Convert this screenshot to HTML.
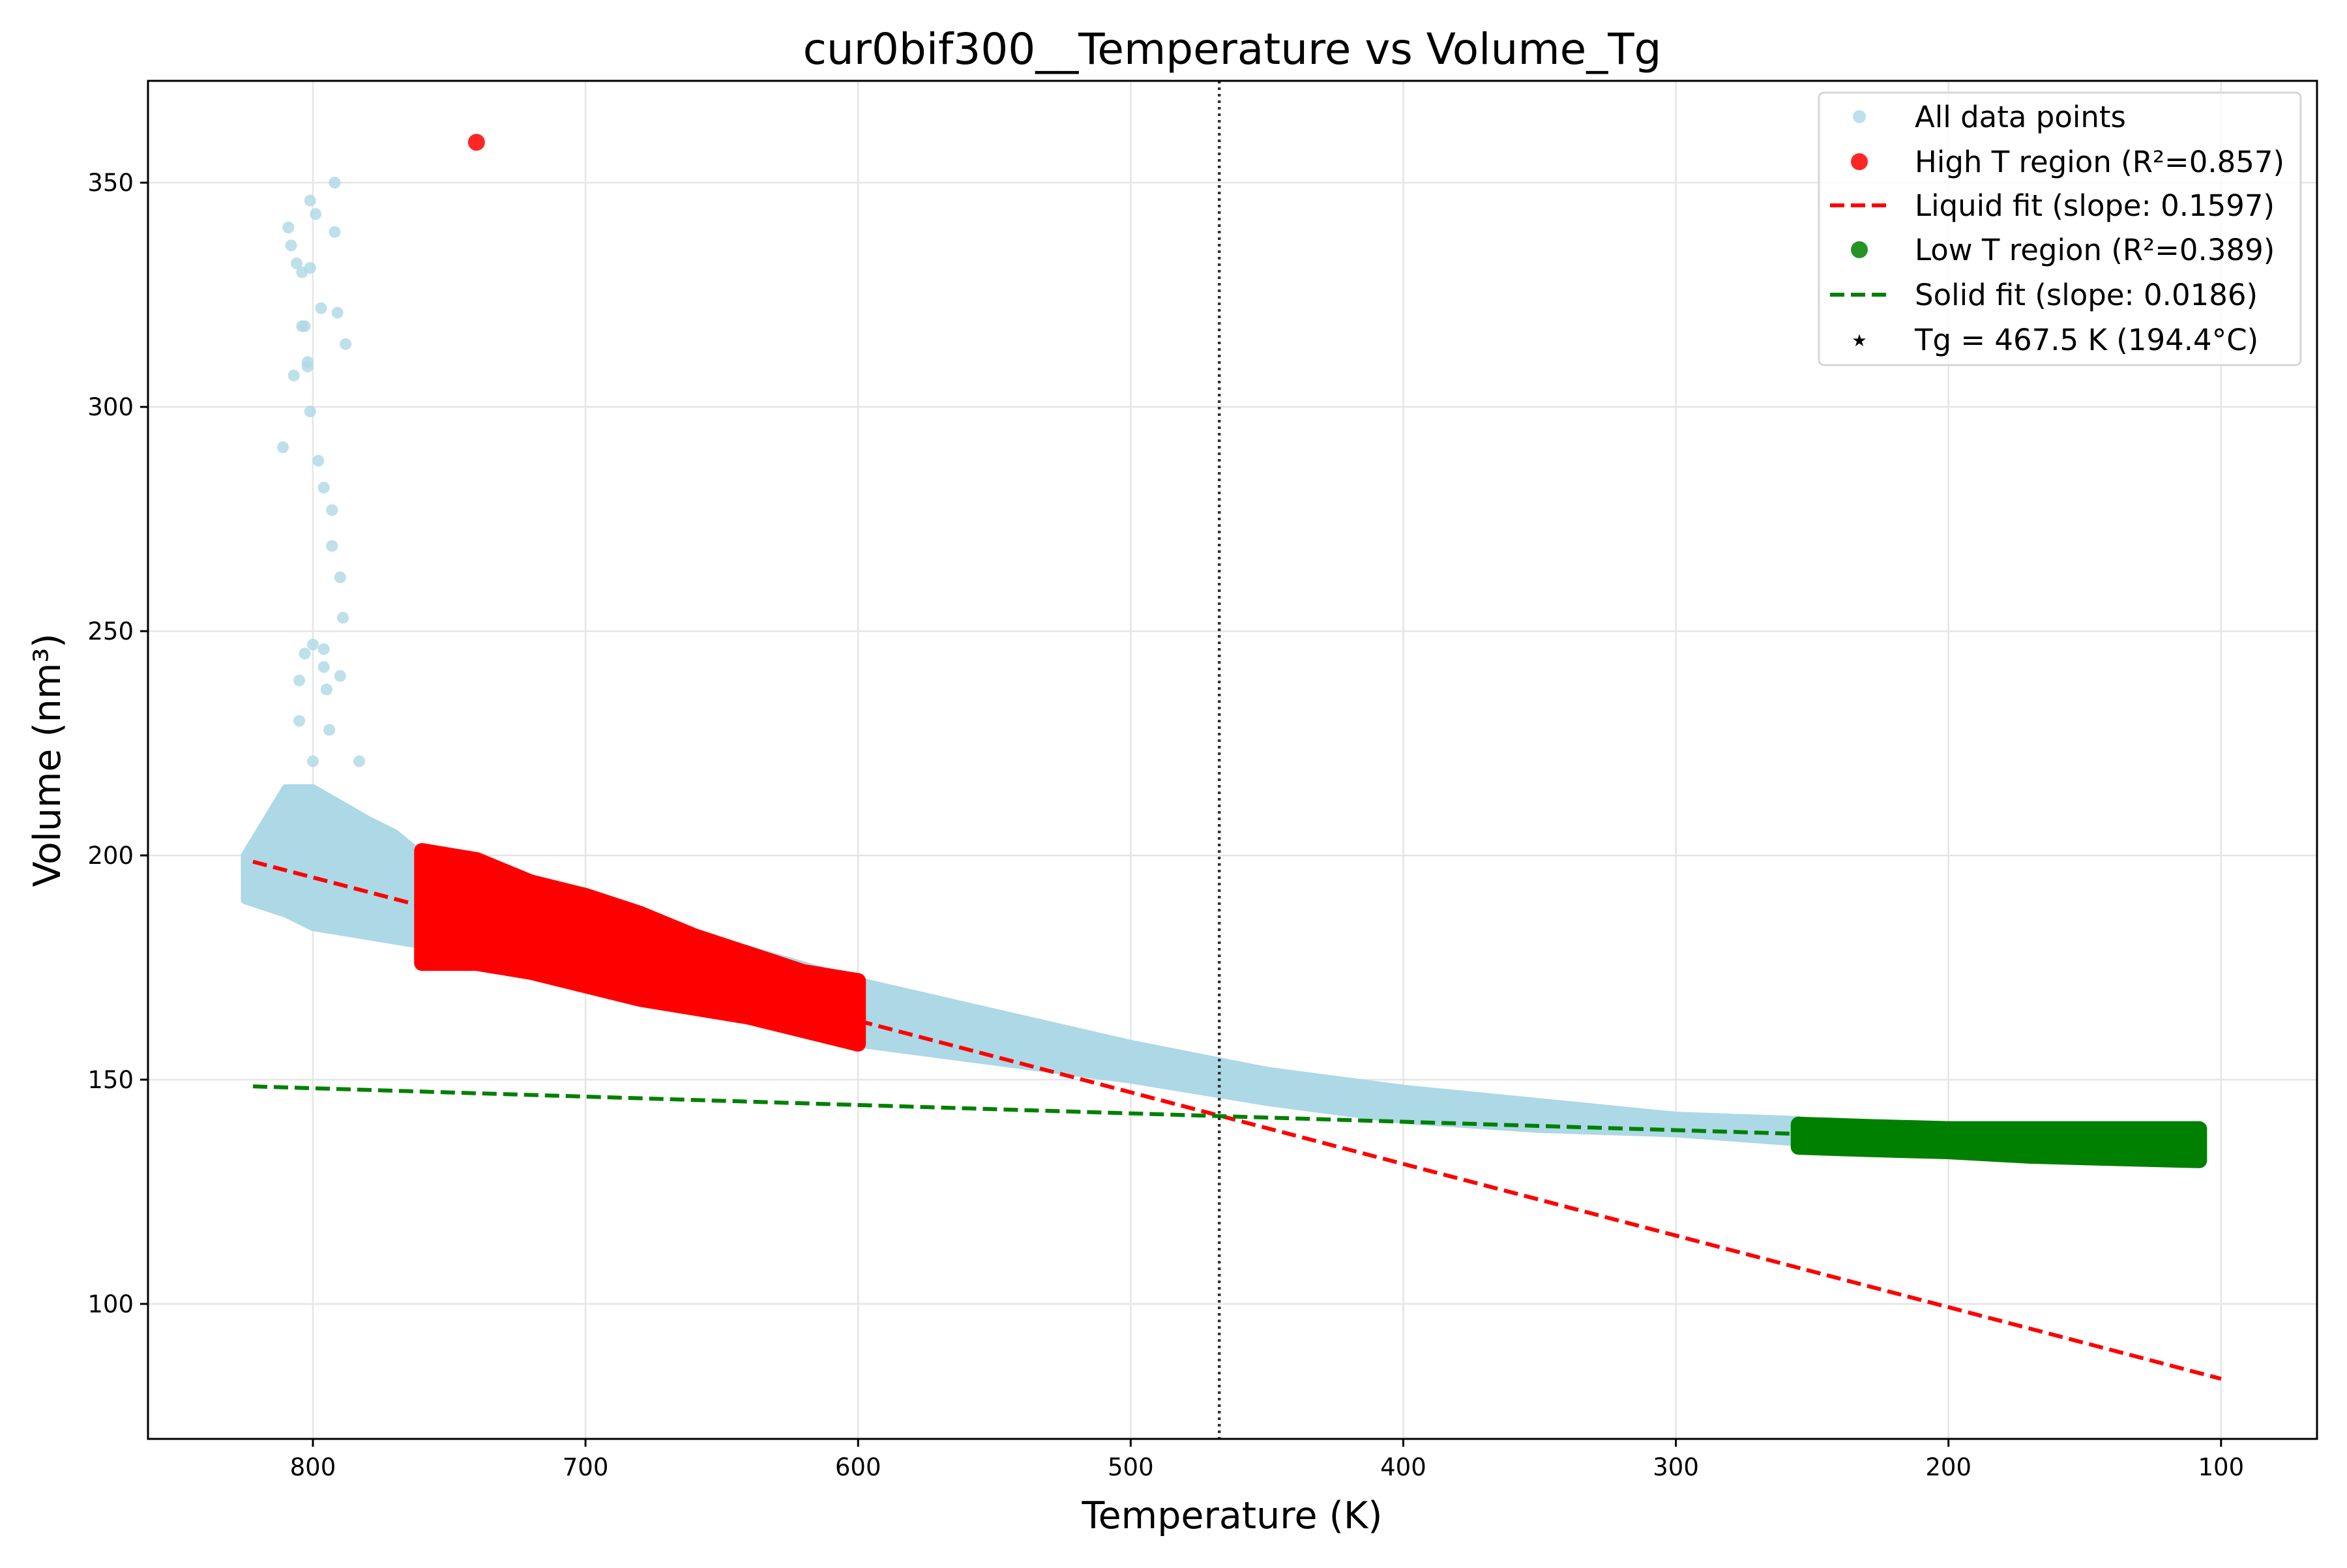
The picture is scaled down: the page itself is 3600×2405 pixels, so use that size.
<!DOCTYPE html>
<html><head><meta charset="utf-8"><style>
body{margin:0;background:#fff}
svg text{font-family:"DejaVu Sans","Liberation Sans",sans-serif}
</style></head><body>
<svg id="chart" width="3600" height="2400" xmlns="http://www.w3.org/2000/svg">
<rect width="3600" height="2400" fill="#fff"/>
<g id="grid"></g><g id="marks"></g><g id="axes"></g>
<text x="1890" y="98" font-size="66" text-anchor="middle">cur0bif300__Temperature vs Volume_Tg</text>
<text x="1890" y="2344" font-size="57" text-anchor="middle">Temperature (K)</text>
<text transform="translate(92,1166) rotate(-90)" font-size="57" text-anchor="middle">Volume (nm³)</text>
<g id="legend"></g>
</svg>
<script>
const xTicks=[800,700,600,500,400,300,200,100];
const yTicks=[100,150,200,250,300,350];
const allBandT=[825,810,800,780,770,760,600,550,500,450,400,350,300,255];
const allBandUpper=[200,215,215,208,205,200,172,165,158,152,148,145,142,141];
const allBandLower=[190,187,184,182,181,180,158,154,150,145,141,139,138,136];
const outlierT=[809,808,806,804,801,801,799,797,792,792,791,788,804,803,802,802,807,811,801,798,796,793,793,790,789,796,803,796,790,795,805,805,794,783,800,800];
const outlierV=[340,336,332,330,331,346,343,322,350,339,321,314,318,318,310,309,307,291,299,288,282,277,269,262,253,246,245,242,240,237,239,230,228,221,221,247];
const highT=[760,740,720,700,680,660,640,620,600];
const highUpper=[201,199,194,191,187,182,178,174,172];
const highLower=[176,176,174,171,168,166,164,161,158];
const highOutlierT=[740];
const highOutlierV=[359];
const lowT=[255,230,200,170,140,108];
const lowUpper=[140,139.5,139,139,139,139];
const lowLower=[135,134.5,134,133,132.5,132];
const liquidFitT=[822,100];
const liquidFitV=[198.6,83.3];
const solidFitT=[822,255];
const solidFitV=[148.5,137.9];
const tg=467.5;

const L=227,R=3554,T=124,B=2207;
const X0=860.5,X1=64.8,Y0=69.9,Y1=372.7;
const sx=t=>L+(X0-t)/(X0-X1)*(R-L);
const sy=v=>B-(v-Y0)/(Y1-Y0)*(B-T);
const NS="http://www.w3.org/2000/svg";
function mk(tag,attrs,parent){const e=document.createElementNS(NS,tag);for(const k in attrs)e.setAttribute(k,attrs[k]);document.getElementById(parent).appendChild(e);return e;}
xTicks.forEach(t=>{const e=mk('line',{x1:sx(t),x2:sx(t),y1:T,y2:B,stroke:'#e5e5e5','stroke-width':2.5},'grid');

});
yTicks.forEach(v=>{const e=mk('line',{x1:L,x2:R,y1:sy(v),y2:sy(v),stroke:'#e5e5e5','stroke-width':2.5},'grid');

});
function band(Ts,U,Lo,fill,stroke,sw,name){let p=Ts.map((t,i)=>sx(t)+','+sy(U[i]));for(let i=Ts.length-1;i>=0;i--)p.push(sx(Ts[i])+','+sy(Lo[i]));
const e=mk('polygon',{points:p.join(' '),fill:fill,stroke:stroke,'stroke-width':sw,'stroke-linejoin':'round'},'marks');

}
band(allBandT,allBandUpper,allBandLower,'#add8e6','#add8e6',12,'all-data-band');
outlierT.forEach((t,i)=>{const e=mk('circle',{cx:sx(t),cy:sy(outlierV[i]),r:9,fill:'#add8e6','fill-opacity':0.8},'marks');

});
band(highT,highUpper,highLower,'#ff0000','#ff0000',24,'high-t-region-band');
highOutlierT.forEach((t,i)=>{const e=mk('circle',{cx:sx(t),cy:sy(highOutlierV[i]),r:13,fill:'#ff0000','fill-opacity':0.85},'marks');

});
band(lowT,lowUpper,lowLower,'#008000','#008000',24,'low-t-region-band');
let e=mk('line',{x1:sx(liquidFitT[0]),y1:sy(liquidFitV[0]),x2:sx(liquidFitT[1]),y2:sy(liquidFitV[1]),stroke:'#ff0000','stroke-width':6,'stroke-dasharray':'22 10'},'marks');


e=mk('line',{x1:sx(solidFitT[0]),y1:sy(solidFitV[0]),x2:sx(solidFitT[1]),y2:sy(solidFitV[1]),stroke:'#008000','stroke-width':6,'stroke-dasharray':'22 10'},'marks');


e=mk('line',{x1:sx(tg),x2:sx(tg),y1:T,y2:B,stroke:'#333','stroke-width':4.5,'stroke-dasharray':'4 6'},'marks');


e=mk('rect',{x:L,y:T,width:R-L,height:B-T,fill:'none',stroke:'#000','stroke-width':3},'axes');


xTicks.forEach(t=>{let a=mk('line',{x1:sx(t),x2:sx(t),y1:B,y2:B+12,stroke:'#000','stroke-width':3},'axes');


let b=mk('text',{x:sx(t),y:B+56,'font-size':37,'text-anchor':'middle'},'axes');b.textContent=t;

});
yTicks.forEach(v=>{let a=mk('line',{x1:L-12,x2:L,y1:sy(v),y2:sy(v),stroke:'#000','stroke-width':3},'axes');


let b=mk('text',{x:L-22,y:sy(v)+13,'font-size':37,'text-anchor':'end'},'axes');b.textContent=v;

});
e=mk('rect',{x:2790,y:142,width:739,height:418,rx:8,fill:'#fff','fill-opacity':0.8,stroke:'#d6d6d6','stroke-width':3},'legend');


const legLabels=['All data points','High T region (R²=0.857)','Liquid fit (slope: 0.1597)','Low T region (R²=0.389)','Solid fit (slope: 0.0186)','Tg = 467.5 K (194.4°C)'];
const legY=[179,248,315,383,452,521];
legLabels.forEach((s,i)=>{const y=legY[i];let m;
if(i==0)m=mk('circle',{cx:2852,cy:y,r:10,fill:'#add8e6','fill-opacity':0.8},'legend');
else if(i==1)m=mk('circle',{cx:2852,cy:y,r:13,fill:'#ff0000','fill-opacity':0.85},'legend');
else if(i==3)m=mk('circle',{cx:2852,cy:y,r:13,fill:'#008000','fill-opacity':0.85},'legend');
else if(i==5)m=mk('text',{x:2852,y:y+10,'font-size':26,'text-anchor':'middle'},'legend');
else m=mk('line',{x1:2807,x2:2896,y1:y,y2:y,stroke:i==2?'#ff0000':'#008000','stroke-width':6,'stroke-dasharray':'22 10'},'legend');
if(i==5)m.textContent='★';


const t=mk('text',{x:2937,y:y+16,'font-size':45},'legend');t.textContent=s;

});
</script>
</body></html>
